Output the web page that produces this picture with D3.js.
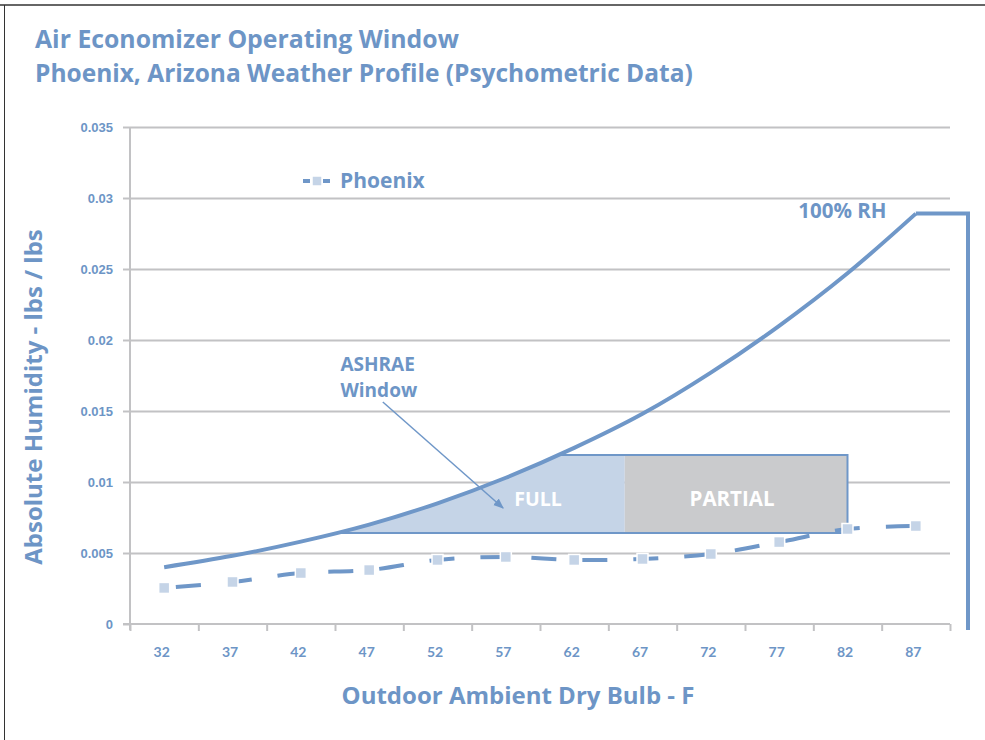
<!DOCTYPE html>
<html>
<head>
<meta charset="utf-8">
<script src="https://cdn.jsdelivr.net/npm/d3@7"></script>
<style>
	body { margin: 0; background: #fff; }
	svg { display: block; font-family: "Open Sans", Lato, sans-serif; }
</style>
</head>
<body>
<div id="chart"></div>
<script>

// dry bulb categories (F)
var temps = [32, 37, 42, 47, 52, 57, 62, 67, 72, 77, 82, 87];
// saturation humidity ratio, 100% RH
var rh100 = [0.0040, 0.0048, 0.0058, 0.0070, 0.0085, 0.0103, 0.0124, 0.0148, 0.0177, 0.0210, 0.0247, 0.0289];
// Phoenix weather profile
var phoenix = [0.00254, 0.00296, 0.00359, 0.0038, 0.00451, 0.00472, 0.00451, 0.00458, 0.00493, 0.00577, 0.00669, 0.0069];
var yTicks = [0, 0.005, 0.01, 0.015, 0.02, 0.025, 0.03, 0.035];

// ASHRAE window (humidity band and dry bulb split)
var windowLow = 0.0064, windowHigh = 0.0119;
var fullEnd = 65.7, partialEnd = 82;

var width = 985, height = 740;
var blue = '#6f97c8',
	textBlue = '#6d95c6',
	grid = '#c2c2c4';

var svg = d3.select('#chart').append('svg')
	.attr('width', width)
	.attr('height', height);

// frame
svg.append('line').attr('x1', 0).attr('x2', width).attr('y1', 5).attr('y2', 5)
	.style('stroke', '#666').style('stroke-width', 2);
svg.append('line').attr('x1', 4.5).attr('x2', 4.5).attr('y1', 5).attr('y2', height)
	.style('stroke', '#333').style('stroke-width', 1);

var x = d3.scaleLinear().domain([29.5, 89.5]).range([130, 950]);
var y = d3.scaleLinear().domain([0, 0.035]).range([624, 127]);

// grid
svg.append('g')
	.attr('transform', 'translate(130,0)')
	.call(d3.axisLeft(y).tickValues(yTicks.slice(1)).tickSize(-820).tickFormat(''))
	.call(g => g.select('.domain').remove())
	.selectAll('line').style('stroke', grid).style('stroke-width', 2);

// y axis
var yAxis = svg.append('g')
	.attr('transform', 'translate(130,0)')
	.call(d3.axisLeft(y).tickValues(yTicks).tickSize(7).tickPadding(10)
		.tickFormat(d => d === 0 ? '0' : String(+d.toFixed(3))));
yAxis.select('.domain').attr('d', 'M0,' + y(0.035) + 'V' + (y(0) + 6));

// x axis, ticks on category boundaries
var xAxis = svg.append('g')
	.attr('transform', 'translate(0,' + y(0) + ')')
	.call(d3.axisBottom(x).tickValues(d3.range(29.5, 90, 5)).tickSize(7).tickFormat(''));
xAxis.select('.domain').attr('d', 'M123,0H950');

var xLabels = svg.append('g')
	.attr('transform', 'translate(-3,' + y(0) + ')')
	.call(d3.axisBottom(x).tickValues(temps).tickSize(0).tickPadding(23));
xLabels.select('.domain').remove();

[yAxis, xAxis].forEach(function(g) {
	g.selectAll('line').style('stroke', grid).style('stroke-width', 2);
	g.select('.domain').style('stroke', grid).style('stroke-width', 2);
});
svg.selectAll('.tick text')
	.style('fill', textBlue)
	.style('font-size', '13px')
	.style('font-weight', 'bold');
xLabels.selectAll('.tick text')
	.style('font-family', 'Lato, sans-serif')
	.style('font-size', '14px');

// ASHRAE window, clipped under the 100% RH curve
var rhPts = temps.map((t, i) => [t, rh100[i]]);

svg.append('clipPath').attr('id', 'underRH')
	.append('path')
	.attr('d', d3.area()
		.x(d => x(d[0]))
		.y0(y(0))
		.y1(d => y(d[1]))
		.curve(d3.curveCatmullRom)(rhPts));

var win = svg.append('g').attr('clip-path', 'url(#underRH)');

win.append('rect')
	.attr('x', x(temps[0]))
	.attr('y', y(windowHigh))
	.attr('width', x(fullEnd) - x(temps[0]))
	.attr('height', y(windowLow) - y(windowHigh))
	.style('fill', '#c5d4e7');

win.append('rect')
	.attr('x', x(fullEnd))
	.attr('y', y(windowHigh))
	.attr('width', x(partialEnd) - x(fullEnd))
	.attr('height', y(windowLow) - y(windowHigh))
	.style('fill', '#cacbcd');

win.append('path')
	.attr('d', 'M' + x(temps[0]) + ',' + y(windowHigh) +
		'H' + x(partialEnd) + 'V' + y(windowLow) + 'H' + x(temps[0]))
	.style('fill', 'none')
	.style('stroke', blue)
	.style('stroke-width', 2);

// Phoenix series
svg.append('path')
	.datum(temps.map((t, i) => [t, phoenix[i]]))
	.attr('d', d3.line().x(d => x(d[0])).y(d => y(d[1])).curve(d3.curveCatmullRom))
	.style('fill', 'none')
	.style('stroke', blue)
	.style('stroke-width', 4)
	.style('stroke-dasharray', '25,26')
	.style('stroke-dashoffset', -12);

svg.selectAll('rect.pt')
	.data(temps.map((t, i) => [t, phoenix[i]]))
	.enter()
	.append('rect')
	.classed('pt', true)
	.attr('x', d => x(d[0]) - 5.5)
	.attr('y', d => y(d[1]) - 5.5)
	.attr('width', 11)
	.attr('height', 11)
	.style('fill', '#c5d4e7')
	.style('stroke', '#fff')
	.style('stroke-width', 1.5);

// 100% RH curve
svg.append('path')
	.datum(rhPts)
	.attr('d', d3.line().x(d => x(d[0])).y(d => y(d[1])).curve(d3.curveCatmullRom))
	.style('fill', 'none')
	.style('stroke', blue)
	.style('stroke-width', 4);

// bracket to the right of the curve
var last = rhPts[rhPts.length - 1];
svg.append('path')
	.attr('d', 'M' + x(last[0]) + ',' + y(last[1]) + 'H' + (x.range()[1] + 18) + 'V' + (y(0) + 6))
	.style('fill', 'none')
	.style('stroke', blue)
	.style('stroke-width', 4);

// arrow from the label into the window
svg.append('defs').append('marker')
	.attr('id', 'arrowhead')
	.attr('viewBox', '0 0 10 10')
	.attr('refX', 9).attr('refY', 5)
	.attr('markerWidth', 7).attr('markerHeight', 7)
	.attr('orient', 'auto')
	.append('path')
	.attr('d', 'M0,1L10,5L0,9Z')
	.style('fill', blue);

svg.append('line')
	.attr('x1', x(48)).attr('y1', y(0.01563))
	.attr('x2', x(56.8)).attr('y2', y(0.00817))
	.style('stroke', blue)
	.style('stroke-width', 1.5)
	.attr('marker-end', 'url(#arrowhead)');

function label(txt, px, py, size, anchor, fill) {
	return svg.append('text')
		.text(txt)
		.attr('x', px)
		.attr('y', py)
		.attr('text-anchor', anchor || 'start')
		.style('font-size', size + 'px')
		.style('font-weight', 'bold')
		.style('fill', fill || textBlue);
}

label('ASHRAE', x(44.9), y(0.01785), 19);
label('Window', x(44.9), y(0.01602), 19);
label('FULL', x(59.35), y(0.0083), 19.5, 'middle', '#fff');
label('PARTIAL', x(73.55), y(0.0083), 20.5, 'middle', '#fff');
label('100% RH', x(78.4), y(0.0286), 20.5);

// legend
var leg = svg.append('g').attr('transform', 'translate(303,181)');
leg.append('line').attr('x1', 0).attr('x2', 27)
	.style('stroke', blue).style('stroke-width', 4).style('stroke-dasharray', '7,3');
leg.append('rect').attr('x', 9).attr('y', -5).attr('width', 10).attr('height', 10)
	.style('fill', '#c5d4e7').style('stroke', '#fff').style('stroke-width', 1.5);
leg.append('text').text('Phoenix').attr('x', 37).attr('y', 7)
	.style('font-size', '21px').style('font-weight', 'bold').style('fill', textBlue);

// titles
label('Air Economizer Operating Window', 35, 48, 24.8);
label('Phoenix, Arizona Weather Profile (Psychometric Data)', 35, 82, 24.5);

label('Outdoor Ambient Dry Bulb - F', 518, 704, 24, 'middle');

svg.append('text')
	.text('Absolute Humidity - lbs / lbs')
	.attr('transform', 'translate(42,397) rotate(-90)')
	.attr('text-anchor', 'middle')
	.style('font-size', '24px')
	.style('font-weight', 'bold')
	.style('fill', textBlue);

</script>
</body>
</html>
